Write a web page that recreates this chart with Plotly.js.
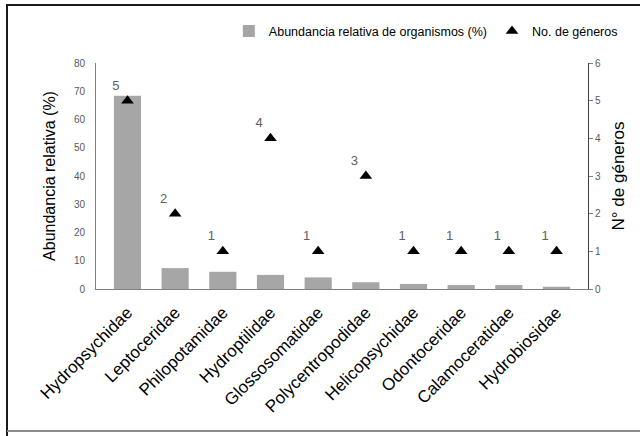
<!DOCTYPE html>
<html>
<head>
<meta charset="utf-8">
<script src="https://cdn.plot.ly/plotly-3.0.1.min.js"></script>
<style>
  html, body { margin: 0; padding: 0; background: #fff; overflow: hidden; }
  #wrap { position: relative; width: 640px; height: 436px; }
  #chart { width: 640px; height: 436px; }
  .ln { position: absolute; pointer-events: none; }
  #top { left: 6px; top: 4px; width: 634px; height: 2px; background: #1a1a1a; }
  #left { left: 6px; top: 4px; width: 2px; height: 432px; background: #1a1a1a; }
  #bot { left: 7px; top: 430px; width: 633px; height: 2px; background: #8c8c8c; }
</style>
</head>
<body>
<div id="wrap">
  <div id="chart"></div>
  <div class="ln" id="top"></div>
  <div class="ln" id="left"></div>
  <div class="ln" id="bot"></div>
</div>
<script>
const families = ["Hydropsychidae", "Leptoceridae", "Philopotamidae", "Hydroptilidae",
  "Glossosomatidae", "Polycentropodidae", "Helicopsychidae", "Odontoceridae",
  "Calamoceratidae", "Hydrobiosidae"];
const abundance = [68.4, 7.4, 6.1, 5.0, 4.1, 2.4, 1.8, 1.4, 1.4, 0.8];
const genera = [5, 2, 1, 4, 1, 3, 1, 1, 1, 1];

const font = "Liberation Sans, Arial, sans-serif";

const traces = [
  {
    type: "bar",
    name: "Abundancia relativa de organismos (%)",
    x: families,
    y: abundance,
    width: 0.57,
    marker: { color: "#A6A6A6" },
    hoverinfo: "skip"
  },
  {
    type: "scatter",
    mode: "markers+text",
    name: "No. de géneros",
    x: families,
    y: genera,
    yaxis: "y2",
    text: genera.map(String),
    textposition: "top left",
    textfont: { family: font, size: 13, color: "#606060" },
    marker: { symbol: "triangle-up", size: 11, color: "#000000" },
    hoverinfo: "skip"
  }
];

const layout = {
  width: 640,
  height: 436,
  margin: { l: 96, r: 52, t: 63, b: 147, autoexpand: false },
  paper_bgcolor: "#ffffff",
  plot_bgcolor: "#ffffff",
  font: { family: font, color: "#000" },
  showlegend: true,
  legend: {
    orientation: "h",
    x: 0.27, xanchor: "left",
    y: 1.14, yanchor: "middle",
    font: { family: font, size: 12.5, color: "#000" },
    itemwidth: 30,
    tracegroupgap: 0,
    bgcolor: "rgba(0,0,0,0)"
  },
  xaxis: {
    type: "category",
    tickangle: -45,
    ticklabelstandoff: 6,
    tickfont: { family: font, size: 17, color: "#000" },
    showline: true, linecolor: "#808080", linewidth: 1,
    ticks: "", showgrid: false, zeroline: false
  },
  yaxis: {
    range: [0, 80], dtick: 10,
    ticklabelstandoff: 8,
    tickfont: { family: font, size: 10, color: "#595959" },
    showline: true, linecolor: "#808080", linewidth: 1,
    ticks: "", showgrid: false, zeroline: false,
    title: { text: "Abundancia relativa (%)", font: { family: font, size: 16, color: "#000" }, standoff: 14 }
  },
  yaxis2: {
    overlaying: "y", side: "right",
    range: [0, 6], dtick: 1,
    tickfont: { family: font, size: 10, color: "#595959" },
    showline: true, linecolor: "#404040", linewidth: 1,
    ticks: "outside", ticklen: 4, tickcolor: "#808080",
    showgrid: false, zeroline: false,
    title: { text: "N° de géneros", font: { family: font, size: 17, color: "#000" }, standoff: 12 }
  }
};

Plotly.newPlot("chart", traces, layout, { staticPlot: true, displayModeBar: false });
</script>
</body>
</html>
